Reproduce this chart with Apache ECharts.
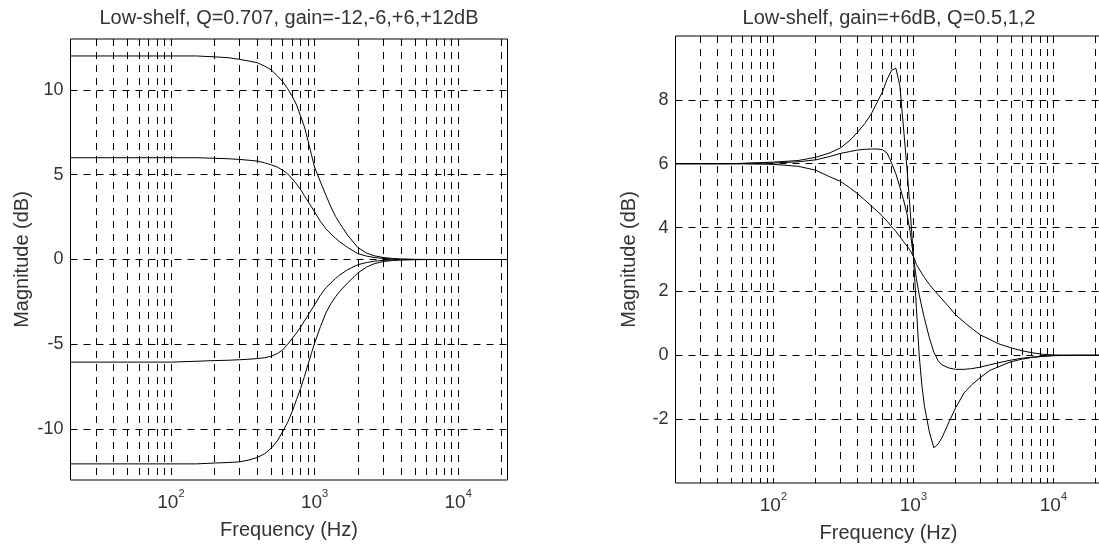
<!DOCTYPE html>
<html>
<head>
<meta charset="utf-8">
<title>Low-shelf filter responses</title>
<script src="https://cdn.jsdelivr.net/npm/echarts@6/dist/echarts.min.js"></script>
<style>html,body{margin:0;padding:0;background:#fff;}</style>
</head>
<body>
<div id="chart" style="width:1099px;height:548px;"></div>
<script>
// ---- data ----
// left: Q=0.707, gain -12,-6,+6,+12 dB
var leftFreq = [20, 50, 100, 150, 200, 250, 300, 350, 400, 450, 500, 550, 600, 650, 700, 750, 800, 850, 900, 950,
    1000, 1100, 1200, 1300, 1400, 1500, 1700, 2000, 2300, 2600, 3000, 3500, 4000, 5000, 7000, 10000, 15000, 22050];
var gainPlus12 = [12.0, 12.0, 12.0, 12.0, 11.95, 11.9, 11.8, 11.7, 11.6, 11.4, 11.18, 10.83, 10.49, 10.07, 9.62, 9.11, 8.45, 7.83, 7.02, 6.2,
    5.45, 4.57, 3.79, 3.1, 2.54, 2.12, 1.43, 0.71, 0.38, 0.22, 0.12, 0.06, 0.03, 0.01, 0, 0, 0, 0];
var gainPlus6 = [6.0, 6.0, 6.0, 6.0, 5.97, 5.94, 5.9, 5.85, 5.8, 5.7, 5.58, 5.45, 5.27, 5.05, 4.75, 4.45, 4.12, 3.76, 3.43, 3.12,
    2.81, 2.24, 1.81, 1.51, 1.25, 1.04, 0.71, 0.35, 0.2, 0.12, 0.06, 0.03, 0.01, 0, 0, 0, 0, 0];
var gainMinus6 = [-6.05, -6.05, -6.05, -6.0, -5.96, -5.94, -5.91, -5.88, -5.84, -5.79, -5.7, -5.55, -5.33, -5.0, -4.65, -4.33, -3.98, -3.63, -3.29, -2.98,
    -2.67, -2.1, -1.67, -1.38, -1.12, -0.91, -0.6, -0.31, -0.18, -0.1, -0.05, -0.02, -0.01, 0, 0, 0, 0, 0];
var gainMinus12 = [-12.05, -12.05, -12.05, -12.05, -12.0, -11.97, -11.93, -11.82, -11.67, -11.45, -11.12, -10.7, -10.15, -9.6, -8.95, -8.25, -7.6, -6.9, -6.2, -5.55,
    -4.95, -3.95, -3.15, -2.6, -2.2, -1.87, -1.38, -0.8, -0.45, -0.25, -0.12, -0.06, -0.03, -0.01, 0, 0, 0, 0];

// right: gain +6 dB, Q = 0.5, 1, 2
var rightFreq = [20, 50, 100, 150, 200, 250, 300, 350, 400, 450, 500, 550, 600, 650, 700, 750, 800, 850, 900, 950,
    1000, 1050, 1100, 1150, 1200, 1300, 1400, 1500, 1600, 1800, 2000, 2300, 2600, 3000, 3500, 4000, 5000, 6000, 7000, 8500,
    10000, 15000, 22050];
var qHalf = [6.0, 6.0, 5.98, 5.92, 5.8, 5.6, 5.45, 5.25, 5.06, 4.86, 4.68, 4.52, 4.36, 4.2, 4.02, 3.88, 3.72, 3.56, 3.42, 3.28,
    3.1, 2.85, 2.7, 2.56, 2.43, 2.22, 2.05, 1.9, 1.76, 1.51, 1.27, 1.04, 0.85, 0.64, 0.5, 0.37, 0.23, 0.14, 0.08, 0.03,
    0.01, 0, 0];
var qOne = [6.0, 6.0, 6.02, 6.06, 6.12, 6.22, 6.32, 6.38, 6.43, 6.45, 6.46, 6.46, 6.44, 6.33, 6.02, 5.68, 5.28, 4.87, 4.43, 3.85,
    3.1, 2.4, 1.9, 1.5, 1.15, 0.55, 0.1, -0.17, -0.3, -0.4, -0.44, -0.44, -0.42, -0.37, -0.3, -0.24, -0.15, -0.09, -0.06, -0.03,
    -0.01, 0, 0];
var qTwo = [6.0, 6.0, 6.05, 6.1, 6.2, 6.33, 6.49, 6.72, 6.99, 7.26, 7.56, 7.92, 8.24, 8.65, 8.93, 8.99, 8.45, 7.12, 5.85, 4.5,
    3.1, 1.5, 0.0, -0.95, -1.6, -2.4, -2.9, -2.78, -2.58, -2.08, -1.65, -1.18, -0.93, -0.7, -0.48, -0.37, -0.2, -0.12, -0.07, -0.03,
    -0.01, 0, 0];

// axis ticks
var freqGrid = [30, 40, 50, 60, 70, 80, 90, 100, 200, 300, 400, 500, 600, 700, 800, 900,
    1000, 2000, 3000, 4000, 5000, 6000, 7000, 8000, 9000, 10000, 20000];
var freqLabels = [100, 1000, 10000];
var leftTicks = [-10, -5, 0, 5, 10];
var rightTicks = [-2, 0, 2, 4, 6, 8];

var titles = ['Low-shelf, Q=0.707, gain=-12,-6,+6,+12dB', 'Low-shelf, gain=+6dB, Q=0.5,1,2'];

// ---- chart ----
var chart = echarts.init(document.getElementById('chart'));
var font = '"Liberation Sans", Arial, sans-serif';
var txt = '#333';
var dash = {color: '#000', width: 1, type: [7, 6]};

function pairs(f, v) {
    return f.map(function (x, i) { return [x, v[i]]; });
}

function freqAxis(idx) {
    return {
        type: 'log', logBase: 10, gridIndex: idx, min: 20, max: 22050,
        axisLine: {show: false},
        axisTick: {show: false, customValues: freqGrid},
        splitLine: {show: true, lineStyle: dash},
        axisLabel: {
            customValues: freqLabels, margin: 8, color: txt, fontFamily: font,
            formatter: function (v) {
                return '{b|10}{s|' + Math.round(Math.log(v) / Math.LN10) + '}';
            },
            rich: {
                b: {fontSize: 19, lineHeight: 24, verticalAlign: 'bottom', color: txt, fontFamily: font},
                s: {fontSize: 11, lineHeight: 24, verticalAlign: 'top', color: txt, fontFamily: font}
            }
        },
        name: 'Frequency (Hz)', nameLocation: 'middle', nameGap: 40,
        nameTextStyle: {fontSize: 20, color: txt, fontFamily: font}
    };
}

function dbAxis(idx, lo, hi, ticks, gap) {
    return {
        type: 'value', gridIndex: idx, min: lo, max: hi,
        axisLine: {show: false},
        axisTick: {show: false, customValues: ticks},
        splitLine: {show: true, lineStyle: dash},
        axisLabel: {customValues: ticks, margin: 7, fontSize: 18, color: txt, fontFamily: font},
        name: 'Magnitude (dB)', nameLocation: 'middle', nameGap: gap,
        nameTextStyle: {fontSize: 20, color: txt, fontFamily: font}
    };
}

function curve(xi, f, v) {
    return {
        type: 'line', xAxisIndex: xi, yAxisIndex: xi, data: pairs(f, v),
        showSymbol: false, symbol: 'none', silent: true, z: 3,
        lineStyle: {color: '#000', width: 1}
    };
}

var option = {
    backgroundColor: '#fff',
    animation: false,
    graphic: [
        {type: 'text', x: 289, y: 18, style: {text: titles[0], align: 'center', verticalAlign: 'middle', font: '20px ' + font, fill: txt}},
        {type: 'text', x: 889, y: 18, style: {text: titles[1], align: 'center', verticalAlign: 'middle', font: '20px ' + font, fill: txt}}
    ],
    grid: [
        {left: 70.5, top: 39, width: 437, height: 441, show: true, borderColor: '#000', borderWidth: 1, backgroundColor: '#fff', containLabel: false, outerBoundsMode: 'none'},
        {left: 675.5, top: 36, width: 426, height: 447, show: true, borderColor: '#000', borderWidth: 1, backgroundColor: '#fff', containLabel: false, outerBoundsMode: 'none'}
    ],
    xAxis: [freqAxis(0), freqAxis(1)],
    yAxis: [dbAxis(0, -13, 13, leftTicks, 38), dbAxis(1, -4, 10, rightTicks, 36)],
    series: [
        curve(0, leftFreq, gainPlus12),
        curve(0, leftFreq, gainPlus6),
        curve(0, leftFreq, gainMinus6),
        curve(0, leftFreq, gainMinus12),
        curve(1, rightFreq, qHalf),
        curve(1, rightFreq, qOne),
        curve(1, rightFreq, qTwo)
    ]
};
chart.setOption(option);
</script>
</body>
</html>
